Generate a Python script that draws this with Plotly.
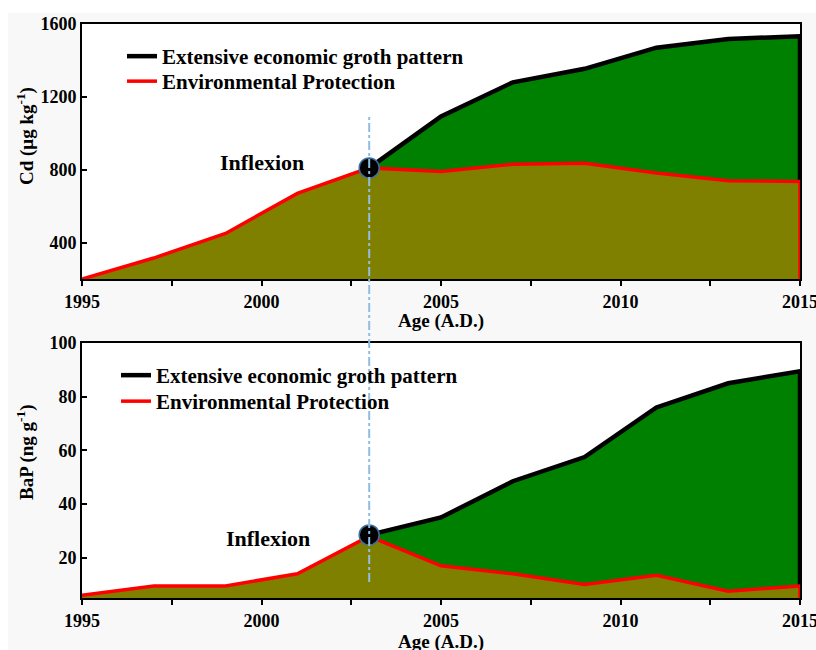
import plotly.graph_objects as go

# Sampled years
years = [1995, 1997, 1999, 2001, 2003, 2005, 2007, 2009, 2011, 2013, 2015]
years_after = [2003, 2005, 2007, 2009, 2011, 2013, 2015]

# Cd concentration (ug/kg)
cd_env = [200, 315, 450, 670, 810, 790, 830, 835, 782, 740, 735]
cd_growth = [810, 1093, 1280, 1354, 1470, 1518, 1533]

# BaP concentration (ng/g)
bap_env = [6, 9.5, 9.5, 14, 28, 17, 14, 10, 13.5, 7.5, 9.5]
bap_growth = [28.5, 35, 48.5, 57.5, 76, 85, 89.5]

cd_range = [200, 1600]
bap_range = [5, 100]
cd_ticks = [400, 800, 1200, 1600]
bap_ticks = [20, 40, 60, 80, 100]
x_ticks = [1995, 2000, 2005, 2010, 2015]

W, H = 816, 650
FONT = "Liberation Serif"
OLIVE = "#808000"
GREEN = "#008000"
RED = "#ff0000"
BLACK = "#000000"


def px_x(p):
    return p / W


def px_y(p):
    return 1 - p / H


fig = go.Figure()


def add_panel(xa, ya, env, growth, yr, leg_black, leg_red):
    # green area under the growth scenario, olive area under protection scenario
    fig.add_trace(go.Scatter(x=years_after, y=growth, mode="lines", fill="tozeroy",
                             fillcolor=GREEN, line=dict(width=0), showlegend=False,
                             hoverinfo="skip", xaxis=xa, yaxis=ya))
    fig.add_trace(go.Scatter(x=years, y=env, mode="lines", fill="tozeroy",
                             fillcolor=OLIVE, line=dict(width=0), showlegend=False,
                             hoverinfo="skip", xaxis=xa, yaxis=ya))
    # outlines, closed down the right edge
    fig.add_trace(go.Scatter(x=years_after + [years_after[-1]], y=growth + [env[-1]],
                             mode="lines", line=dict(color=BLACK, width=4.5),
                             name="Extensive economic groth pattern",
                             legend=leg_black, xaxis=xa, yaxis=ya))
    fig.add_trace(go.Scatter(x=years + [years[-1]], y=env + [yr[0]],
                             mode="lines", line=dict(color=RED, width=3.5),
                             name="Environmental Protection",
                             legend=leg_red, xaxis=xa, yaxis=ya))
    # inflexion point
    fig.add_trace(go.Scatter(x=[years_after[0]], y=[growth[0]], mode="markers",
                             marker=dict(size=20, color=BLACK,
                                         line=dict(color="#3d6f9e", width=1.5)),
                             showlegend=False, xaxis=xa, yaxis=ya))


add_panel("x", "y", cd_env, cd_growth, cd_range, "legend", "legend2")
add_panel("x2", "y2", bap_env, bap_growth, bap_range, "legend3", "legend4")

tickfont = dict(family=FONT, size=18, color="black", weight="bold")
x_common = dict(range=[1995, 2015.0001], tickvals=x_ticks, ticks="outside", ticklen=5,
                tickwidth=1.5, tickcolor="black", showline=True, linecolor="black",
                linewidth=2, mirror=True, showgrid=False, zeroline=False,
                tickfont=tickfont, automargin=False, ticklabeloverflow="allow",
                minor=dict(dtick=2.5, tick0=1995, ticks="outside", ticklen=5,
                           tickcolor="black", tickwidth=1.5, showgrid=False))
y_common = dict(ticks="inside", ticklen=5, tickwidth=1.5, tickcolor="black",
                showline=True, linecolor="black", linewidth=2, mirror=True,
                showgrid=False, zeroline=False, tickfont=tickfont, automargin=False,
                ticklabeloverflow="allow")

legend_font = dict(family=FONT, size=21, color="black", weight="bold")


def legend_at(left, top):
    return dict(x=px_x(left), y=px_y(top), xanchor="left", yanchor="top",
                bgcolor="rgba(0,0,0,0)", font=legend_font, tracegroupgap=0)


fig.update_layout(
    width=W, height=H,
    margin=dict(l=0, r=0, t=0, b=0),
    paper_bgcolor="#f8f8f8",
    plot_bgcolor="white",
    xaxis=dict(domain=[px_x(82), px_x(800)], anchor="y", **x_common),
    yaxis=dict(domain=[px_y(279), px_y(24)], anchor="x", range=cd_range,
               tickvals=cd_ticks, **y_common),
    xaxis2=dict(domain=[px_x(82), px_x(800)], anchor="y2", **x_common),
    yaxis2=dict(domain=[px_y(598), px_y(343)], anchor="x2", range=bap_range,
                tickvals=bap_ticks, **y_common),
    legend=legend_at(122, 36),
    legend2=legend_at(122, 61),
    legend3=legend_at(116, 355),
    legend4=legend_at(116, 381),
    showlegend=True,
)

# white page margin strips
fig.add_shape(type="rect", xref="paper", yref="paper", x0=0, x1=1, y0=px_y(13), y1=1,
              fillcolor="white", line=dict(width=0), layer="below")
fig.add_shape(type="rect", xref="paper", yref="paper", x0=0, x1=px_x(8), y0=0, y1=1,
              fillcolor="white", line=dict(width=0), layer="below")

# vertical dash-dot guide through both inflexion points
fig.add_shape(type="line", xref="x", yref="paper", x0=years_after[0], x1=years_after[0],
              y0=px_y(582), y1=px_y(115), line=dict(color="#8fbde3", width=2, dash="dashdot"),
              layer="above")

title_font = dict(family=FONT, size=19, color="black")
ann = [
    dict(text="<b>Cd (μg kg<sup>-1</sup>)</b>", x=px_x(25), y=px_y(136), textangle=-90),
    dict(text="<b>BaP (ng g<sup>-1</sup>)</b>", x=px_x(25), y=px_y(452), textangle=-90),
    dict(text="<b>Age (A.D.)</b>", x=px_x(441), y=px_y(321)),
    dict(text="<b>Age (A.D.)</b>", x=px_x(441), y=px_y(642)),
]
for a in ann:
    fig.add_annotation(xref="paper", yref="paper", showarrow=False,
                       xanchor="center", yanchor="middle", font=title_font, **a)

infl_font = dict(family=FONT, size=22, color="black")
fig.add_annotation(xref="paper", yref="paper", x=px_x(262), y=px_y(163),
                   xanchor="center", yanchor="middle",
                   text="<b>Inflexion</b>", showarrow=False, font=infl_font)
fig.add_annotation(xref="paper", yref="paper", x=px_x(268), y=px_y(538),
                   xanchor="center", yanchor="middle",
                   text="<b>Inflexion</b>", showarrow=False, font=infl_font)

fig.write_html("out.html")
